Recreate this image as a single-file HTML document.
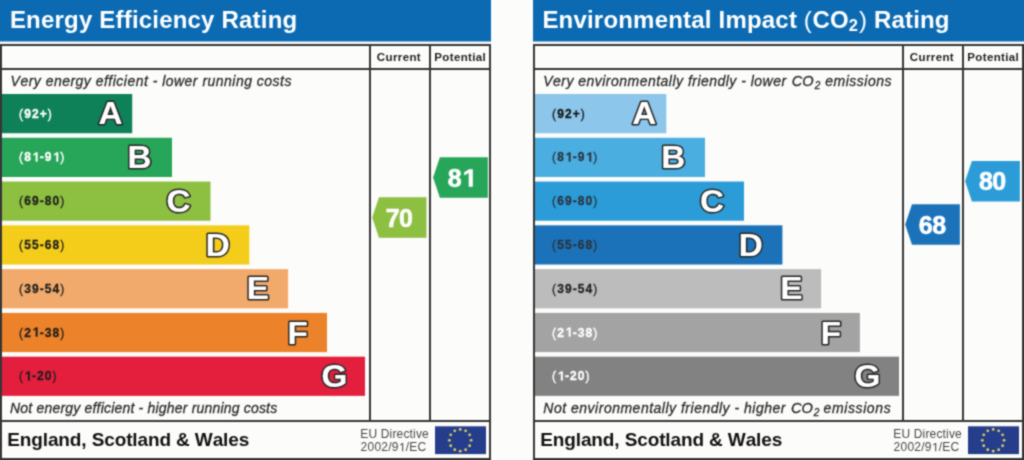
<!DOCTYPE html><html><head><meta charset="utf-8"><style>html,body{margin:0;padding:0;background:#fcfcfa;}svg{display:block}</style></head><body><svg width="1024" height="460" viewBox="0 0 1024 460" font-family="Liberation Sans, sans-serif">
<defs><filter id="b" x="-10" y="-10" width="1044" height="480" filterUnits="userSpaceOnUse" color-interpolation-filters="sRGB"><feConvolveMatrix order="3" kernelMatrix="1 2 1 2 8 2 1 2 1" edgeMode="duplicate" preserveAlpha="true"/></filter></defs>
<g filter="url(#b)">
<style>text{font-family:"Liberation Sans",sans-serif;font-kerning:none} .let{font-size:32px;font-weight:bold;fill:#fff;stroke:#262626;stroke-width:3.2px;stroke-linejoin:round} .let2{font-size:32px;font-weight:bold;fill:#fff;stroke:#fff;stroke-width:0.2px;stroke-linejoin:round}</style>
<rect x="-10" y="-10" width="1044" height="480" fill="#fcfcfa"/>
<g transform="translate(0,0)">
<rect x="-5" y="-4" width="496" height="45.5" fill="#0b6ab2"/>
<rect x="-5" y="44" width="6" height="425" fill="#363636"/>
<rect x="-5" y="458" width="496" height="10" fill="#363636"/>
<text x="9.89" y="27.7" font-size="24" font-weight="bold" font-style="normal" fill="#fff" letter-spacing="0.19881114130434882" >Energy Efficiency Rating</text>
<rect x="1.5" y="94.00" width="130.70" height="39.2" fill="#0e8159"/>
<g transform="translate(0 117.70) scale(1 1.09)" stroke="#fff" stroke-width="0.35"><text y="0" font-size="12" fill="#fff" ><tspan x="19.06" font-weight="normal">(</tspan><tspan x="24.15" font-weight="bold">9</tspan><tspan x="31.93" font-weight="bold">2</tspan><tspan x="39.70" font-weight="bold">+</tspan><tspan x="47.81" font-weight="normal">)</tspan></text></g>
<text transform="translate(110.6 124.00) scale(1.04 1)" text-anchor="middle" class="let">A</text>
<text transform="translate(110.6 124.00) scale(1.04 1)" text-anchor="middle" class="let2">A</text>
<rect x="1.5" y="137.78" width="170.50" height="39.2" fill="#27a558"/>
<g transform="translate(0 161.48) scale(1 1.09)" stroke="#fff" stroke-width="0.35"><text y="0" font-size="12" fill="#fff" ><tspan x="19.06" font-weight="normal">(</tspan><tspan x="24.15" font-weight="bold">8</tspan><tspan x="39.70" font-weight="bold">-</tspan><tspan x="44.80" font-weight="bold">9</tspan><tspan x="60.34" font-weight="normal">)</tspan></text><path transform="translate(31.93 0) scale(0.00586 -0.00586)" d="M659 0L659 1150L286 940L286 1170L680 1409L949 1409L949 0Z" fill="#fff" vector-effect="non-scaling-stroke"/><path transform="translate(52.57 0) scale(0.00586 -0.00586)" d="M659 0L659 1150L286 940L286 1170L680 1409L949 1409L949 0Z" fill="#fff" vector-effect="non-scaling-stroke"/></g>
<text transform="translate(139.55 167.98) scale(1.04 1)" text-anchor="middle" class="let">B</text>
<text transform="translate(139.55 167.98) scale(1.04 1)" text-anchor="middle" class="let2">B</text>
<rect x="1.5" y="181.56" width="209.00" height="39.2" fill="#8dbf40"/>
<g transform="translate(0 205.26) scale(1 1.09)" stroke="#1c1c1c" stroke-width="0.25"><text y="0" font-size="12" fill="#1c1c1c" ><tspan x="19.06" font-weight="normal">(</tspan><tspan x="24.15" font-weight="bold">6</tspan><tspan x="31.93" font-weight="bold">9</tspan><tspan x="39.70" font-weight="bold">-</tspan><tspan x="44.80" font-weight="bold">8</tspan><tspan x="52.57" font-weight="bold">0</tspan><tspan x="60.34" font-weight="normal">)</tspan></text></g>
<text transform="translate(178.45 211.86) scale(1.04 1)" text-anchor="middle" class="let">C</text>
<text transform="translate(178.45 211.86) scale(1.04 1)" text-anchor="middle" class="let2">C</text>
<rect x="1.5" y="225.34" width="247.80" height="39.2" fill="#f4cd1a"/>
<g transform="translate(0 249.04) scale(1 1.09)" stroke="#1c1c1c" stroke-width="0.25"><text y="0" font-size="12" fill="#1c1c1c" ><tspan x="19.06" font-weight="normal">(</tspan><tspan x="24.15" font-weight="bold">5</tspan><tspan x="31.93" font-weight="bold">5</tspan><tspan x="39.70" font-weight="bold">-</tspan><tspan x="44.80" font-weight="bold">6</tspan><tspan x="52.57" font-weight="bold">8</tspan><tspan x="60.34" font-weight="normal">)</tspan></text></g>
<text transform="translate(217.7 256.34) scale(1.04 1)" text-anchor="middle" class="let">D</text>
<text transform="translate(217.7 256.34) scale(1.04 1)" text-anchor="middle" class="let2">D</text>
<rect x="1.5" y="269.12" width="286.60" height="39.2" fill="#f2aa6c"/>
<g transform="translate(0 292.82) scale(1 1.09)" stroke="#1c1c1c" stroke-width="0.25"><text y="0" font-size="12" fill="#1c1c1c" ><tspan x="19.06" font-weight="normal">(</tspan><tspan x="24.15" font-weight="bold">3</tspan><tspan x="31.93" font-weight="bold">9</tspan><tspan x="39.70" font-weight="bold">-</tspan><tspan x="44.80" font-weight="bold">5</tspan><tspan x="52.57" font-weight="bold">4</tspan><tspan x="60.34" font-weight="normal">)</tspan></text></g>
<text transform="translate(257.95 299.12) scale(1.04 1)" text-anchor="middle" class="let">E</text>
<text transform="translate(257.95 299.12) scale(1.04 1)" text-anchor="middle" class="let2">E</text>
<rect x="1.5" y="312.90" width="325.50" height="39.2" fill="#ec8229"/>
<g transform="translate(0 336.60) scale(1 1.09)" stroke="#1c1c1c" stroke-width="0.25"><text y="0" font-size="12" fill="#1c1c1c" ><tspan x="19.06" font-weight="normal">(</tspan><tspan x="24.15" font-weight="bold">2</tspan><tspan x="39.70" font-weight="bold">-</tspan><tspan x="44.80" font-weight="bold">3</tspan><tspan x="52.57" font-weight="bold">8</tspan><tspan x="60.34" font-weight="normal">)</tspan></text><path transform="translate(31.93 0) scale(0.00586 -0.00586)" d="M659 0L659 1150L286 940L286 1170L680 1409L949 1409L949 0Z" fill="#1c1c1c" vector-effect="non-scaling-stroke"/></g>
<text transform="translate(297.6 343.70) scale(1.04 1)" text-anchor="middle" class="let">F</text>
<text transform="translate(297.6 343.70) scale(1.04 1)" text-anchor="middle" class="let2">F</text>
<rect x="1.5" y="356.68" width="363.50" height="39.2" fill="#e31f3d"/>
<g transform="translate(0 380.38) scale(1 1.09)" stroke="#1c1c1c" stroke-width="0.25"><text y="0" font-size="12" fill="#1c1c1c" ><tspan x="19.06" font-weight="normal">(</tspan><tspan x="31.93" font-weight="bold">-</tspan><tspan x="37.02" font-weight="bold">2</tspan><tspan x="44.80" font-weight="bold">0</tspan><tspan x="52.57" font-weight="normal">)</tspan></text><path transform="translate(24.15 0) scale(0.00586 -0.00586)" d="M659 0L659 1150L286 940L286 1170L680 1409L949 1409L949 0Z" fill="#1c1c1c" vector-effect="non-scaling-stroke"/></g>
<text transform="translate(334.5 386.98) scale(1.04 1)" text-anchor="middle" class="let">G</text>
<text transform="translate(334.5 386.98) scale(1.04 1)" text-anchor="middle" class="let2">G</text>
<g stroke="#363636" stroke-width="2" fill="none">
<rect x="1" y="45" width="489" height="414"/>
<line x1="0" y1="69" x2="491" y2="69"/>
<line x1="0" y1="421" x2="491" y2="421"/>
<line x1="370" y1="44" x2="370" y2="422"/>
<line x1="430" y1="44" x2="430" y2="422"/>
</g>
<text x="376.83" y="61" font-size="11.5" font-weight="bold" font-style="normal" fill="#222" letter-spacing="0.38029785156250046" >Current</text>
<text x="434.23" y="61" font-size="11.5" font-weight="bold" font-style="normal" fill="#222" letter-spacing="0.37786865234375" >Potential</text>
<text x="10.59" y="85.7" font-size="14" font-weight="normal" font-style="italic" fill="#2c2c2c" letter-spacing="0.48" stroke="#2c2c2c" stroke-width="0.3">Very energy efficient - lower running costs</text>
<text x="10.07" y="412.9" font-size="14" font-weight="normal" font-style="italic" fill="#2c2c2c" letter-spacing="0.19" stroke="#2c2c2c" stroke-width="0.3">Not energy efficient - higher running costs</text>
<polygon points="372.2,217.45 379.00,197.2 426.5,197.2 426.5,237.70 379.00,237.70" fill="#8dbf40"/>
<g stroke="#fff" stroke-width="0.6"><text y="226.50" font-size="25" fill="#fff" ><tspan x="385.72" font-weight="bold">7</tspan><tspan x="399.03" font-weight="bold">0</tspan></text></g>
<polygon points="433.1,177.55 439.90,157.3 487.9,157.3 487.9,197.80 439.90,197.80" fill="#27a558"/>
<g stroke="#fff" stroke-width="0.6"><text y="186.60" font-size="25" fill="#fff" ><tspan x="447.66" font-weight="bold">8</tspan></text><path transform="translate(460.96 186.60) scale(0.01221 -0.01221)" d="M659 0L659 1150L286 940L286 1170L680 1409L949 1409L949 0Z" fill="#fff" vector-effect="non-scaling-stroke"/></g>
<text x="7.23" y="445.5" font-size="19" font-weight="bold" font-style="normal" fill="#111" letter-spacing="-0.11964925130208333" >England, Scotland &amp; Wales</text>
<text x="360.22" y="437.8" font-size="12" font-weight="normal" font-style="normal" fill="#484848" letter-spacing="0.1670809659090909" >EU Directive</text>
<text y="451.3" font-size="12" fill="#484848" ><tspan x="360.60" font-weight="normal">2</tspan><tspan x="367.51" font-weight="normal">0</tspan><tspan x="374.43" font-weight="normal">0</tspan><tspan x="381.34" font-weight="normal">2</tspan><tspan x="388.26" font-weight="normal">/</tspan><tspan x="391.84" font-weight="normal">9</tspan><tspan x="405.67" font-weight="normal">/</tspan><tspan x="409.24" font-weight="normal">E</tspan><tspan x="417.49" font-weight="normal">C</tspan></text><path transform="translate(398.75 451.3) scale(0.00586 -0.00586)" d="M578 0L578 1200L230 980L230 1160L600 1409L763 1409L763 0Z" fill="#484848" vector-effect="non-scaling-stroke"/>
<rect x="435" y="426.3" width="51" height="27.8" fill="#253d8a"/>
<circle cx="460.20" cy="429.40" r="1.4" fill="#dccf66"/>
<circle cx="465.65" cy="430.86" r="1.4" fill="#dccf66"/>
<circle cx="469.64" cy="434.85" r="1.4" fill="#dccf66"/>
<circle cx="471.10" cy="440.30" r="1.4" fill="#dccf66"/>
<circle cx="469.64" cy="445.75" r="1.4" fill="#dccf66"/>
<circle cx="465.65" cy="449.74" r="1.4" fill="#dccf66"/>
<circle cx="460.20" cy="451.20" r="1.4" fill="#dccf66"/>
<circle cx="454.75" cy="449.74" r="1.4" fill="#dccf66"/>
<circle cx="450.76" cy="445.75" r="1.4" fill="#dccf66"/>
<circle cx="449.30" cy="440.30" r="1.4" fill="#dccf66"/>
<circle cx="450.76" cy="434.85" r="1.4" fill="#dccf66"/>
<circle cx="454.75" cy="430.86" r="1.4" fill="#dccf66"/>
</g>
<g transform="translate(533,0)">
<rect x="0" y="-4" width="496" height="45.5" fill="#0b6ab2"/>
<rect x="490" y="44" width="6" height="425" fill="#363636"/>
<rect x="0" y="458" width="496" height="10" fill="#363636"/>
<text x="9.39" y="27.7" font-size="24" font-weight="bold" font-style="normal" fill="#fff" letter-spacing="0.2" >Environmental Impact</text>
<text x="270.81" y="27.7" font-size="24" font-weight="normal" font-style="normal" fill="#fff" >(</text>
<text x="279.42" y="27.7" font-size="24" font-weight="bold" font-style="normal" fill="#fff" letter-spacing="0.2" >CO</text>
<text x="315.73" y="31.2" font-size="16.5" font-weight="bold" font-style="normal" fill="#fff" >2</text>
<text x="326.06" y="27.7" font-size="24" font-weight="normal" font-style="normal" fill="#fff" >)</text>
<text x="341.09" y="27.7" font-size="24" font-weight="bold" font-style="normal" fill="#fff" letter-spacing="0.13015624999999886" >Rating</text>
<rect x="1.5" y="94.00" width="131.80" height="39.2" fill="#8cc6ea"/>
<g transform="translate(0 117.70) scale(1 1.09)" stroke="#111" stroke-width="0.25"><text y="0" font-size="12" fill="#111" ><tspan x="19.06" font-weight="normal">(</tspan><tspan x="24.15" font-weight="bold">9</tspan><tspan x="31.93" font-weight="bold">2</tspan><tspan x="39.70" font-weight="bold">+</tspan><tspan x="47.81" font-weight="normal">)</tspan></text></g>
<text transform="translate(111.35 124.00) scale(1.04 1)" text-anchor="middle" class="let">A</text>
<text transform="translate(111.35 124.00) scale(1.04 1)" text-anchor="middle" class="let2">A</text>
<rect x="1.5" y="137.78" width="170.50" height="39.2" fill="#4aaee1"/>
<g transform="translate(0 161.48) scale(1 1.09)" stroke="#2a3440" stroke-width="0.25"><text y="0" font-size="12" fill="#2a3440" ><tspan x="19.06" font-weight="normal">(</tspan><tspan x="24.15" font-weight="bold">8</tspan><tspan x="39.70" font-weight="bold">-</tspan><tspan x="44.80" font-weight="bold">9</tspan><tspan x="60.34" font-weight="normal">)</tspan></text><path transform="translate(31.93 0) scale(0.00586 -0.00586)" d="M659 0L659 1150L286 940L286 1170L680 1409L949 1409L949 0Z" fill="#2a3440" vector-effect="non-scaling-stroke"/><path transform="translate(52.57 0) scale(0.00586 -0.00586)" d="M659 0L659 1150L286 940L286 1170L680 1409L949 1409L949 0Z" fill="#2a3440" vector-effect="non-scaling-stroke"/></g>
<text transform="translate(140.25 167.98) scale(1.04 1)" text-anchor="middle" class="let">B</text>
<text transform="translate(140.25 167.98) scale(1.04 1)" text-anchor="middle" class="let2">B</text>
<rect x="1.5" y="181.56" width="209.50" height="39.2" fill="#2b9cd8"/>
<g transform="translate(0 205.26) scale(1 1.09)" stroke="#2a3440" stroke-width="0.25"><text y="0" font-size="12" fill="#2a3440" ><tspan x="19.06" font-weight="normal">(</tspan><tspan x="24.15" font-weight="bold">6</tspan><tspan x="31.93" font-weight="bold">9</tspan><tspan x="39.70" font-weight="bold">-</tspan><tspan x="44.80" font-weight="bold">8</tspan><tspan x="52.57" font-weight="bold">0</tspan><tspan x="60.34" font-weight="normal">)</tspan></text></g>
<text transform="translate(178.95 211.86) scale(1.04 1)" text-anchor="middle" class="let">C</text>
<text transform="translate(178.95 211.86) scale(1.04 1)" text-anchor="middle" class="let2">C</text>
<rect x="1.5" y="225.34" width="247.90" height="39.2" fill="#1b72b9"/>
<g transform="translate(0 249.04) scale(1 1.09)" stroke="#2a3440" stroke-width="0.25"><text y="0" font-size="12" fill="#2a3440" ><tspan x="19.06" font-weight="normal">(</tspan><tspan x="24.15" font-weight="bold">5</tspan><tspan x="31.93" font-weight="bold">5</tspan><tspan x="39.70" font-weight="bold">-</tspan><tspan x="44.80" font-weight="bold">6</tspan><tspan x="52.57" font-weight="bold">8</tspan><tspan x="60.34" font-weight="normal">)</tspan></text></g>
<text transform="translate(217.85 256.34) scale(1.04 1)" text-anchor="middle" class="let">D</text>
<text transform="translate(217.85 256.34) scale(1.04 1)" text-anchor="middle" class="let2">D</text>
<rect x="1.5" y="269.12" width="286.60" height="39.2" fill="#bcbcbc"/>
<g transform="translate(0 292.82) scale(1 1.09)" stroke="#222" stroke-width="0.25"><text y="0" font-size="12" fill="#222" ><tspan x="19.06" font-weight="normal">(</tspan><tspan x="24.15" font-weight="bold">3</tspan><tspan x="31.93" font-weight="bold">9</tspan><tspan x="39.70" font-weight="bold">-</tspan><tspan x="44.80" font-weight="bold">5</tspan><tspan x="52.57" font-weight="bold">4</tspan><tspan x="60.34" font-weight="normal">)</tspan></text></g>
<text transform="translate(258.45 299.12) scale(1.04 1)" text-anchor="middle" class="let">E</text>
<text transform="translate(258.45 299.12) scale(1.04 1)" text-anchor="middle" class="let2">E</text>
<rect x="1.5" y="312.90" width="325.40" height="39.2" fill="#a3a3a3"/>
<g transform="translate(0 336.60) scale(1 1.09)" stroke="#fff" stroke-width="0.35"><text y="0" font-size="12" fill="#fff" ><tspan x="19.06" font-weight="normal">(</tspan><tspan x="24.15" font-weight="bold">2</tspan><tspan x="39.70" font-weight="bold">-</tspan><tspan x="44.80" font-weight="bold">3</tspan><tspan x="52.57" font-weight="bold">8</tspan><tspan x="60.34" font-weight="normal">)</tspan></text><path transform="translate(31.93 0) scale(0.00586 -0.00586)" d="M659 0L659 1150L286 940L286 1170L680 1409L949 1409L949 0Z" fill="#fff" vector-effect="non-scaling-stroke"/></g>
<text transform="translate(297.85 343.70) scale(1.04 1)" text-anchor="middle" class="let">F</text>
<text transform="translate(297.85 343.70) scale(1.04 1)" text-anchor="middle" class="let2">F</text>
<rect x="1.5" y="356.68" width="364.50" height="39.2" fill="#828282"/>
<g transform="translate(0 380.38) scale(1 1.09)" stroke="#fff" stroke-width="0.35"><text y="0" font-size="12" fill="#fff" ><tspan x="19.06" font-weight="normal">(</tspan><tspan x="31.93" font-weight="bold">-</tspan><tspan x="37.02" font-weight="bold">2</tspan><tspan x="44.80" font-weight="bold">0</tspan><tspan x="52.57" font-weight="normal">)</tspan></text><path transform="translate(24.15 0) scale(0.00586 -0.00586)" d="M659 0L659 1150L286 940L286 1170L680 1409L949 1409L949 0Z" fill="#fff" vector-effect="non-scaling-stroke"/></g>
<text transform="translate(334.5 386.98) scale(1.04 1)" text-anchor="middle" class="let">G</text>
<text transform="translate(334.5 386.98) scale(1.04 1)" text-anchor="middle" class="let2">G</text>
<g stroke="#363636" stroke-width="2" fill="none">
<rect x="1" y="45" width="489" height="414"/>
<line x1="0" y1="69" x2="491" y2="69"/>
<line x1="0" y1="421" x2="491" y2="421"/>
<line x1="370" y1="44" x2="370" y2="422"/>
<line x1="430" y1="44" x2="430" y2="422"/>
</g>
<text x="376.83" y="61" font-size="11.5" font-weight="bold" font-style="normal" fill="#222" letter-spacing="0.38029785156250046" >Current</text>
<text x="434.23" y="61" font-size="11.5" font-weight="bold" font-style="normal" fill="#222" letter-spacing="0.37786865234375" >Potential</text>
<text x="10.19" y="85.7" font-size="14" font-weight="normal" font-style="italic" fill="#2c2c2c" letter-spacing="0.48" stroke="#2c2c2c" stroke-width="0.3">Very environmentally friendly - lower</text>
<text x="258.69" y="85.7" font-size="14.6" font-weight="normal" font-style="italic" fill="#2c2c2c" stroke="#2c2c2c" stroke-width="0.3">CO</text>
<text x="281.66" y="88.6" font-size="10" font-weight="normal" font-style="italic" fill="#2c2c2c" stroke="#2c2c2c" stroke-width="0.3">2</text>
<text x="292.13" y="85.7" font-size="14" font-weight="normal" font-style="italic" fill="#2c2c2c" letter-spacing="0.5271972656250004" stroke="#2c2c2c" stroke-width="0.3">emissions</text>
<text x="10.37" y="412.9" font-size="14" font-weight="normal" font-style="italic" fill="#2c2c2c" letter-spacing="0.5" stroke="#2c2c2c" stroke-width="0.3">Not environmentally friendly - higher</text>
<text x="257.99" y="412.9" font-size="14.6" font-weight="normal" font-style="italic" fill="#2c2c2c" stroke="#2c2c2c" stroke-width="0.3">CO</text>
<text x="280.86" y="415.8" font-size="10" font-weight="normal" font-style="italic" fill="#2c2c2c" stroke="#2c2c2c" stroke-width="0.3">2</text>
<text x="290.53" y="412.9" font-size="14" font-weight="normal" font-style="italic" fill="#2c2c2c" letter-spacing="0.6146972656250007" stroke="#2c2c2c" stroke-width="0.3">emissions</text>
<polygon points="372.2,224.55 379.00,204.3 426.9,204.3 426.9,244.80 379.00,244.80" fill="#1b72b9"/>
<g stroke="#fff" stroke-width="0.6"><text y="233.60" font-size="25" fill="#fff" ><tspan x="385.87" font-weight="bold">6</tspan><tspan x="399.18" font-weight="bold">8</tspan></text></g>
<polygon points="432.1,181.15 438.90,160.9 486.9,160.9 486.9,201.40 438.90,201.40" fill="#2b9cd8"/>
<g stroke="#fff" stroke-width="0.6"><text y="190.20" font-size="25" fill="#fff" ><tspan x="446.01" font-weight="bold">8</tspan><tspan x="459.32" font-weight="bold">0</tspan></text></g>
<text x="7.23" y="445.5" font-size="19" font-weight="bold" font-style="normal" fill="#111" letter-spacing="-0.11964925130208333" >England, Scotland &amp; Wales</text>
<text x="360.22" y="437.8" font-size="12" font-weight="normal" font-style="normal" fill="#484848" letter-spacing="0.1670809659090909" >EU Directive</text>
<text y="451.3" font-size="12" fill="#484848" ><tspan x="360.60" font-weight="normal">2</tspan><tspan x="367.51" font-weight="normal">0</tspan><tspan x="374.43" font-weight="normal">0</tspan><tspan x="381.34" font-weight="normal">2</tspan><tspan x="388.26" font-weight="normal">/</tspan><tspan x="391.84" font-weight="normal">9</tspan><tspan x="405.67" font-weight="normal">/</tspan><tspan x="409.24" font-weight="normal">E</tspan><tspan x="417.49" font-weight="normal">C</tspan></text><path transform="translate(398.75 451.3) scale(0.00586 -0.00586)" d="M578 0L578 1200L230 980L230 1160L600 1409L763 1409L763 0Z" fill="#484848" vector-effect="non-scaling-stroke"/>
<rect x="435" y="426.3" width="51" height="27.8" fill="#253d8a"/>
<circle cx="460.20" cy="429.40" r="1.4" fill="#dccf66"/>
<circle cx="465.65" cy="430.86" r="1.4" fill="#dccf66"/>
<circle cx="469.64" cy="434.85" r="1.4" fill="#dccf66"/>
<circle cx="471.10" cy="440.30" r="1.4" fill="#dccf66"/>
<circle cx="469.64" cy="445.75" r="1.4" fill="#dccf66"/>
<circle cx="465.65" cy="449.74" r="1.4" fill="#dccf66"/>
<circle cx="460.20" cy="451.20" r="1.4" fill="#dccf66"/>
<circle cx="454.75" cy="449.74" r="1.4" fill="#dccf66"/>
<circle cx="450.76" cy="445.75" r="1.4" fill="#dccf66"/>
<circle cx="449.30" cy="440.30" r="1.4" fill="#dccf66"/>
<circle cx="450.76" cy="434.85" r="1.4" fill="#dccf66"/>
<circle cx="454.75" cy="430.86" r="1.4" fill="#dccf66"/>
</g>
</g></svg></body></html>
